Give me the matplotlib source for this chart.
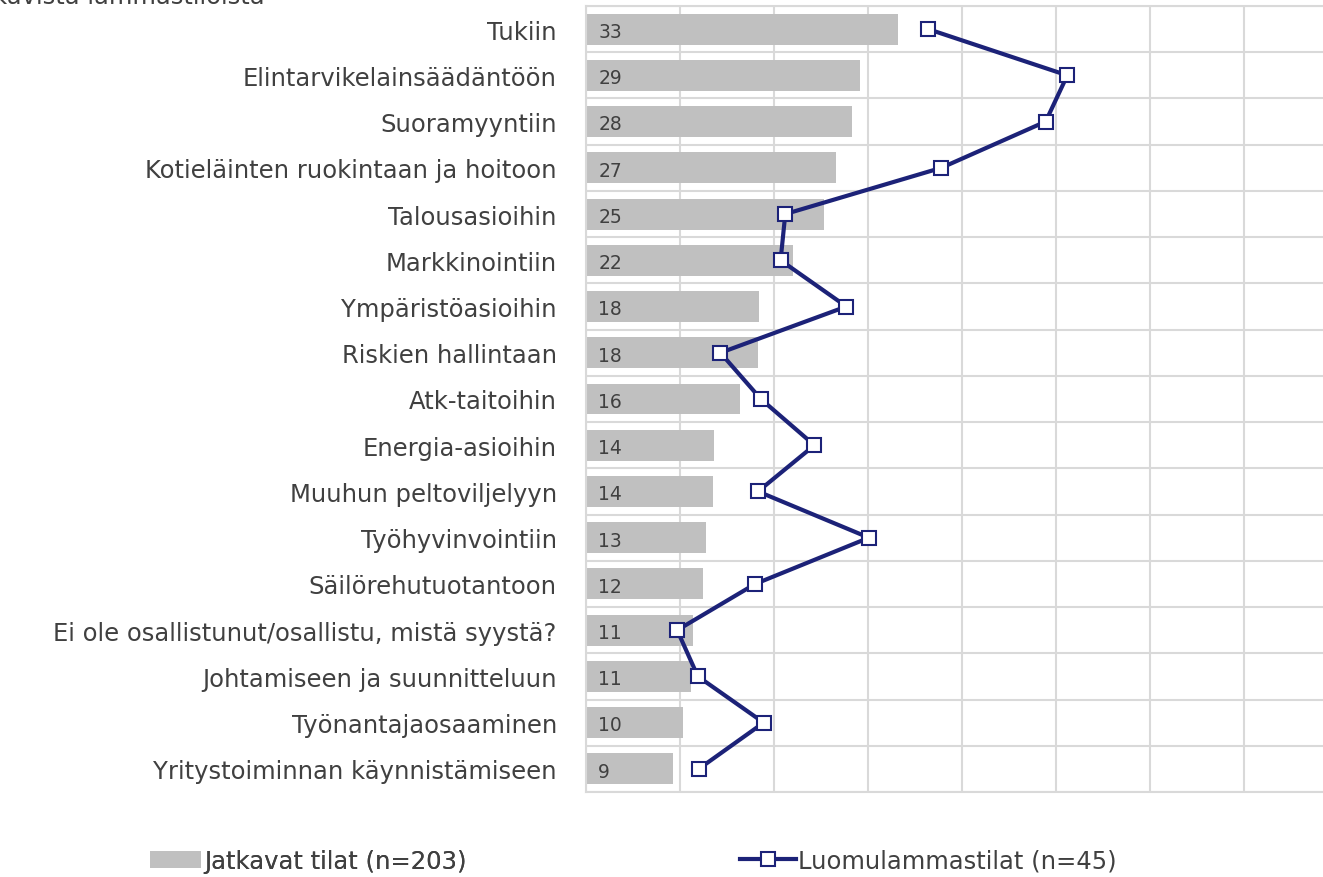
import numpy as np
import matplotlib.pyplot as plt
from matplotlib.patches import Patch
from matplotlib.lines import Line2D

# categories, top to bottom
categories = ["Tukiin", "Elintarvikelainsäädäntöön", "Suoramyyntiin",
              "Kotieläinten ruokintaan ja hoitoon", "Talousasioihin",
              "Markkinointiin", "Ympäristöasioihin", "Riskien hallintaan",
              "Atk-taitoihin", "Energia-asioihin", "Muuhun peltoviljelyyn",
              "Työhyvinvointiin", "Säilörehutuotantoon",
              "Ei ole osallistunut/osallistu, mistä syystä?",
              "Johtamiseen ja suunnitteluun", "Työnantajaosaaminen",
              "Yritystoiminnan käynnistämiseen"]

# Jatkavat tilat (n=203), %
jatkavat = [33.2, 29.1, 28.3, 26.6, 25.3, 22.0, 18.4, 18.3, 16.4, 13.6,
            13.5, 12.8, 12.4, 11.4, 11.2, 10.3, 9.3]

# Luomulammastilat (n=45), %
luomu = [36.4, 51.2, 48.9, 37.8, 21.2, 20.7, 27.7, 14.3, 18.6, 24.3,
         18.3, 30.1, 18.0, 9.7, 11.9, 18.9, 12.0]

bar_color = "#C0C0C0"
line_color = "#1C2278"
text_color = "#404040"

W, H = 1323, 878
fig = plt.figure(figsize=(W / 100, H / 100), dpi=100)
ax = fig.add_axes([586 / W, 1 - 793 / H, 1 - 586 / W, (793 - 7) / H])

y = np.arange(len(categories))
ax.barh(y, jatkavat, height=0.67, color=bar_color, zorder=2)
for yi, v in zip(y, jatkavat):
    ax.text(1.3, yi + 0.05, f"{v:.0f}", va="center", ha="left",
            fontsize=13.5, color=text_color, zorder=3)

ax.plot(luomu, y, color=line_color, lw=3, marker="s", ms=9.5,
        mfc="white", mec=line_color, mew=1.5, zorder=4)

ax.set_xlim(0, (W - 586) / 9.4)
ax.set_ylim(len(categories) - 0.5, -0.5)
ax.set_xticks(np.arange(0, 80, 10))
ax.set_xticklabels([])
ax.set_yticks(y)
ax.set_yticklabels(categories, fontsize=17.5, color=text_color)
ax.tick_params(axis="both", length=0)
ax.tick_params(axis="y", pad=21)
ax.set_yticks(np.arange(len(categories) + 1) - 0.5, minor=True)
ax.tick_params(axis="y", which="minor", length=0)
ax.grid(axis="x", color="#D9D9D9", lw=1.5, zorder=0)
ax.grid(axis="y", which="minor", color="#D9D9D9", lw=1.5, zorder=0)
for s in ["top", "bottom", "left"]:
    ax.spines[s].set_color("#D9D9D9")
    ax.spines[s].set_linewidth(1.5)
ax.spines["right"].set_visible(False)

# title cut at the top of the picture
fig.text(265 / W, 1 - 4 / H, "Osuus jatkavista lammastiloista", ha="right",
         va="baseline", fontsize=17.5, color=text_color)

h1 = Patch(facecolor=bar_color, edgecolor="none")
h2 = Line2D([], [], color=line_color, lw=3, marker="s", ms=9.5,
            mfc="white", mec=line_color, mew=1.5)
leg1 = fig.legend(handles=[h1], labels=["Jatkavat tilat (n=203)"],
                  loc="center left", bbox_to_anchor=(150 / W, 1 - 862 / H),
                  frameon=False, borderpad=0, borderaxespad=0,
                  handlelength=2.1, handleheight=0.72, handletextpad=0.12,
                  fontsize=17.5, labelcolor=text_color)
leg2 = fig.legend(handles=[h2], labels=["Luomulammastilat (n=45)"],
                  loc="center left", bbox_to_anchor=(740 / W, 1 - 862 / H),
                  frameon=False, borderpad=0, borderaxespad=0,
                  handlelength=2.3, handletextpad=0.08,
                  fontsize=17.5, labelcolor=text_color)
fig.add_artist(leg1)

fig.savefig("out.png", dpi=100)
